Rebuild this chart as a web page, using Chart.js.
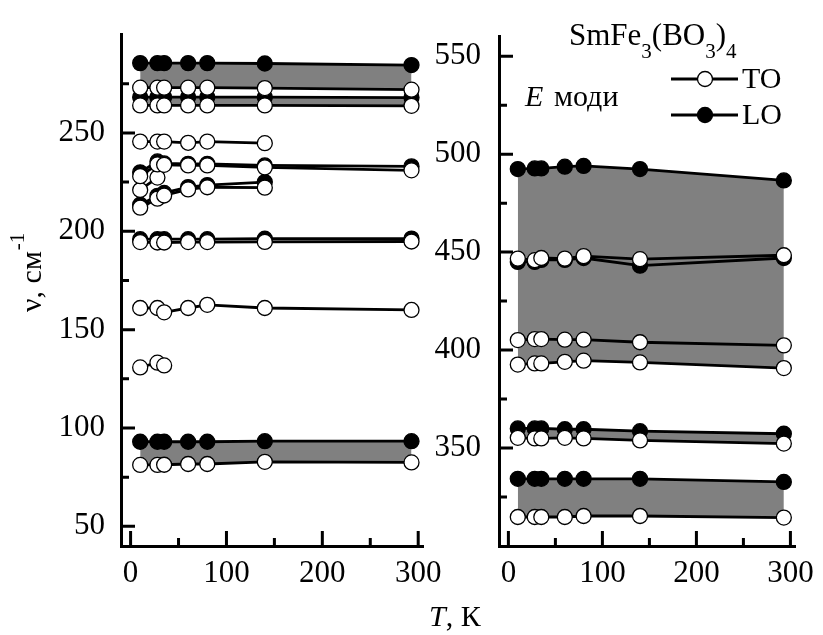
<!DOCTYPE html>
<html>
<head>
<meta charset="utf-8">
<script src="https://cdn.jsdelivr.net/npm/chart.js@4.4.1/dist/chart.umd.min.js"></script>
<style>
body { margin: 0; background: #fff; }
#wrap { position: relative; width: 823px; height: 635px; background: #fff; }
canvas { position: absolute; top: 0; }
</style>
</head>
<body>
<div id="wrap">
  <canvas id="left_canvas" width="490" height="635" style="left:0"></canvas>
  <canvas id="right_canvas" width="393" height="635" style="left:430px"></canvas>
</div>
<script>
// temperatures, K
const T = [10, 28, 35, 60, 80, 140, 293];

// left panel, cm-1
const lo_285 = [285.5, 285.5, 285.5, 285.5, 285.5, 285.3, 284.5];
const to_273 = [273, 273, 273, 273, 273, 272.8, 272];
const lo_268 = [268.2, 268.2, 268.2, 268.2, 268.2, 268.2, 268];
const to_264 = [264, 264, 264, 264, 264, 264, 263.8];
const to_245 = [245.6, 245.6, 245.6, 245, 245.6, 244.8];
const lo_233 = [230, 235.5, 234.5, 234.3, 234.3, 233.5, 233];
const to_233 = [228, 234, 233.8, 233.5, 233.5, 232.5, 231];
const to_225 = [221, 227.3];
const lo_222 = [213.5, 218, 219.5, 222.5, 223.5, 225];
const to_222 = [212, 216.6, 218.2, 221.3, 222.4, 222.2];
const lo_196 = [196, 196, 196, 196, 196, 196.2, 196.3];
const to_194 = [194.5, 194.3, 194.3, 194.5, 194.5, 194.6, 194.8];
const to_161 = [161, 161, 158.8, 161, 162.6, 161, 160];
const to_132 = [130.8, 133.2, 131.8];
const lo_93 = [93, 93, 93, 93, 93, 93.3, 93.3];
const to_82 = [81.2, 81.2, 81.3, 81.7, 81.7, 82.8, 82.5];

// right panel, cm-1
const lo_492 = [492.4, 492.7, 492.7, 493.6, 494, 492.4, 486.6];
const to_447 = [446.7, 445.9, 447, 446.7, 448, 446.4, 448.4];
const lo_446 = [445, 445, 446, 446, 447, 443.1, 447];
const to_405 = [405.1, 405.6, 405.6, 405.3, 405.3, 404, 402.4];
const to_393 = [392.6, 393.2, 393.2, 394, 394.6, 393.7, 390.8];
const lo_359 = [360, 360, 360, 359.6, 359.6, 358.6, 357.3];
const to_355 = [355.2, 354.9, 354.9, 355.2, 354.9, 353.9, 352.3];
const lo_334 = [334.3, 334.3, 334.3, 334.3, 334.3, 334.3, 332.7];
const to_315 = [314.8, 314.8, 314.8, 314.8, 315.3, 315.3, 314.5];

// ticks
const x_major = [0, 100, 200, 300];
const x_minor = [50, 150, 250];
const yl_major = [50, 100, 150, 200, 250];
const yl_minor = [75, 125, 175, 225, 275];
const yr_major = [350, 400, 450, 500, 550];
const yr_minor = [325, 375, 425, 475, 525];

const GRAY = '#808080';
const SERIF = '"Liberation Serif", "Times New Roman", serif';

function pts(vals) {
    return vals.map((v, i) => ({ x: T[i], y: v }));
}

// kind: 'TO' open circles, 'LO' filled circles; fillTo = dataset index
function series(vals, kind, fillTo) {
    const ds = {
        data: pts(vals),
        borderColor: '#000',
        borderWidth: 2.8,
        pointRadius: 7.5,
        pointBorderWidth: 1.3,
        pointBorderColor: '#000',
        pointBackgroundColor: kind == 'TO' ? '#fff' : '#000',
        backgroundColor: GRAY,
        tension: 0,
        order: kind == 'TO' ? 0 : 1,
        fill: false
    };
    if (fillTo !== undefined) {
        ds.fill = { target: fillTo, above: GRAY, below: GRAY };
    }
    return ds;
}

const inward_ticks = {
    id: 'inward_ticks',
    afterDraw(chart, args, o) {
        const ctx = chart.ctx, a = chart.chartArea;
        const xs = chart.scales.x, ys = chart.scales.y;
        ctx.save();
        ctx.strokeStyle = '#000';
        ctx.lineWidth = 3;
        ctx.beginPath();
        o.xMajor.forEach(v => { const p = xs.getPixelForValue(v); ctx.moveTo(p, a.bottom); ctx.lineTo(p, a.bottom - 15); });
        o.xMinor.forEach(v => { const p = xs.getPixelForValue(v); ctx.moveTo(p, a.bottom); ctx.lineTo(p, a.bottom - 8); });
        o.yMajor.forEach(v => { const p = ys.getPixelForValue(v); ctx.moveTo(a.left, p); ctx.lineTo(a.left + 14, p); });
        o.yMinor.forEach(v => { const p = ys.getPixelForValue(v); ctx.moveTo(a.left, p); ctx.lineTo(a.left + 8, p); });
        ctx.stroke();
        ctx.restore();
    }
};

// texts drawn on the canvas (sub/superscripts)
const texts = {
    id: 'texts',
    afterDraw(chart, args, o) {
        const ctx = chart.ctx;
        ctx.save();
        ctx.fillStyle = '#000';
        ctx.textBaseline = 'alphabetic';
        if (o.side == 'left') {
            // y label
            ctx.save();
            ctx.translate(41, 312);
            ctx.rotate(-Math.PI / 2);
            ctx.font = '30px ' + SERIF;
            ctx.fillText('ν, см', 0, 0);
            const w = ctx.measureText('ν, см').width;
            ctx.font = '21px ' + SERIF;
            ctx.fillText('-1', w + 1, -17);
            ctx.restore();
            // x label
            ctx.font = 'italic 30px ' + SERIF;
            ctx.fillText('T', 429, 626);
            let x = 429 + ctx.measureText('T').width;
            ctx.font = '30px ' + SERIF;
            ctx.fillText(', К', x, 626);
        } else {
            // formula
            const parts = [['SmFe', 0], ['3', 1], ['(BO', 0], ['3', 1], [')', 0], ['4', 1]];
            let x = 139;
            parts.forEach(p => {
                ctx.font = (p[1] ? '21px ' : '31px ') + SERIF;
                ctx.fillText(p[0], x, p[1] ? 58 : 45);
                x += ctx.measureText(p[0]).width;
            });
            // E modes
            ctx.font = 'italic 30px ' + SERIF;
            ctx.fillText('E', 95, 106);
            ctx.font = '30px ' + SERIF;
            ctx.fillText('моди', 124, 106);
            // legend
            const rows = [['TO', '#fff', 79], ['LO', '#000', 115]];
            rows.forEach(r => {
                ctx.strokeStyle = '#000';
                ctx.lineWidth = 2.8;
                ctx.beginPath();
                ctx.moveTo(241, r[2]);
                ctx.lineTo(308, r[2]);
                ctx.stroke();
                ctx.beginPath();
                ctx.arc(275, r[2], 7.5, 0, Math.PI * 2);
                ctx.fillStyle = r[1];
                ctx.fill();
                ctx.lineWidth = 1.3;
                ctx.stroke();
                ctx.fillStyle = '#000';
                ctx.font = '30px ' + SERIF;
                ctx.fillText(r[0], 312, r[2] + 9);
            });
        }
        ctx.restore();
    }
};

function make_options(yMin, yMax, yMajor, yMinor, yWidth, pad, yPad, side) {
    return {
        responsive: false,
        animation: false,
        layout: { padding: pad },
        plugins: {
            legend: { display: false },
            tooltip: { enabled: false },
            filler: { drawTime: 'beforeDatasetsDraw' },
            inward_ticks: { xMajor: x_major, xMinor: x_minor, yMajor: yMajor, yMinor: yMinor },
            texts: { side: side }
        },
        scales: {
            x: {
                type: 'linear',
                min: -10,
                max: 305,
                afterBuildTicks: s => { s.ticks = x_major.map(v => ({ value: v })); },
                afterFit: s => { s.height = 89; },
                grid: { display: true, drawOnChartArea: false, drawTicks: false },
                border: { color: '#000', width: 3 },
                ticks: { color: '#000', font: { family: SERIF, size: 31 }, padding: 9, maxRotation: 0 }
            },
            y: {
                type: 'linear',
                min: yMin,
                max: yMax,
                afterBuildTicks: s => { s.ticks = yMajor.map(v => ({ value: v })); },
                afterFit: s => { s.width = yWidth; },
                grid: { display: true, drawOnChartArea: false, drawTicks: false },
                border: { color: '#000', width: 3 },
                ticks: { color: '#000', font: { family: SERIF, size: 31 }, padding: yPad }
            }
        }
    };
}

// left chart, dataset indexes used as fill targets
const left_sets = [
    series(to_273, 'TO'),        // 0
    series(lo_285, 'LO', 0),     // 1
    series(to_264, 'TO'),        // 2
    series(lo_268, 'LO', 2),     // 3
    series(to_245, 'TO'),
    series(to_233, 'TO'),
    series(lo_233, 'LO'),
    series(to_225, 'TO'),
    series(to_222, 'TO'),
    series(lo_222, 'LO'),
    series(to_194, 'TO'),
    series(lo_196, 'LO'),
    series(to_161, 'TO'),
    series(to_132, 'TO'),
    series(to_82, 'TO'),         // 14
    series(lo_93, 'LO', 14)      // 15
];

const right_sets = [
    series(to_393, 'TO'),        // 0
    series(lo_492, 'LO', 0),     // 1
    series(to_447, 'TO'),
    series(lo_446, 'LO'),
    series(to_405, 'TO'),
    series(to_355, 'TO'),        // 5
    series(lo_359, 'LO', 5),     // 6
    series(to_315, 'TO'),        // 7
    series(lo_334, 'LO', 7)      // 8
];

const left_canvas = document.getElementById('left_canvas');
const left_chart = new Chart(left_canvas, {
    type: 'line',
    data: { datasets: left_sets },
    options: make_options(40, 300, yl_major, yl_minor, 121, { top: 15, right: 67, left: 0, bottom: 0 }, 16, 'left'),
    plugins: [inward_ticks, texts]
});

const right_canvas = document.getElementById('right_canvas');
const right_chart = new Chart(right_canvas, {
    type: 'line',
    data: { datasets: right_sets },
    options: make_options(300, 560, yr_major, yr_minor, 69, { top: 15, right: 21, left: 0, bottom: 0 }, 18, 'right'),
    plugins: [inward_ticks, texts]
});
</script>
</body>
</html>
